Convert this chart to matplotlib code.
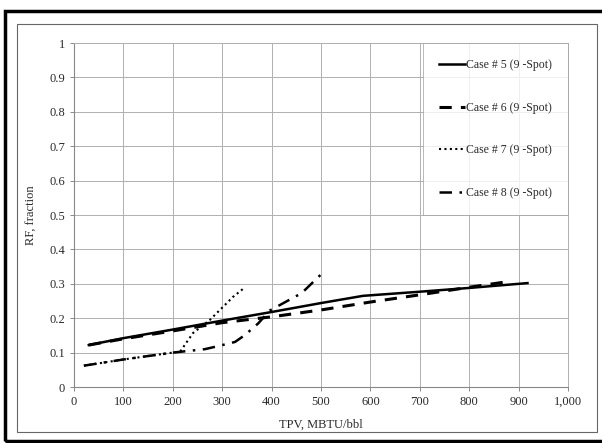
import matplotlib
matplotlib.use('Agg')
import matplotlib.pyplot as plt
from matplotlib.patches import Rectangle

# RF vs TPV for the 9-spot cases
case5_x = [30, 100, 200, 300, 400, 500, 585, 700, 800, 918]
case5_y = [0.122, 0.142, 0.167, 0.193, 0.218, 0.244, 0.265, 0.277, 0.288, 0.302]

case6_x = [30, 100, 200, 300, 400, 500, 600, 700, 800, 872]
case6_y = [0.122, 0.140, 0.163, 0.187, 0.204, 0.224, 0.247, 0.268, 0.290, 0.305]

case7_x = [20, 100, 200, 215, 241, 275, 322, 342]
case7_y = [0.062, 0.080, 0.100, 0.103, 0.157, 0.195, 0.262, 0.285]

case8_x = [20, 100, 200, 265, 295, 326, 346, 373, 396, 461, 502]
case8_y = [0.062, 0.080, 0.100, 0.110, 0.120, 0.131, 0.151, 0.185, 0.222, 0.273, 0.330]

labels = ['Case # 5 (9 -Spot)', 'Case # 6 (9 -Spot)',
          'Case # 7 (9 -Spot)', 'Case # 8 (9 -Spot)']

xticks = [0, 100, 200, 300, 400, 500, 600, 700, 800, 900, 1000]
xticklabels = ['0', '100', '200', '300', '400', '500', '600', '700', '800', '900', '1,000']
yticks = [0, 0.1, 0.2, 0.3, 0.4, 0.5, 0.6, 0.7, 0.8, 0.9, 1]
yticklabels = ['0', '0.1', '0.2', '0.3', '0.4', '0.5', '0.6', '0.7', '0.8', '0.9', '1']

plt.rcParams['font.family'] = ['Liberation Serif', 'DejaVu Serif']
txt = '#2a2a2a'

fig = plt.figure(figsize=(6.02, 4.43), dpi=100)
ax = fig.add_axes([74 / 602, 1 - 387 / 443, 494 / 602, 344 / 443])

ax.plot(case5_x, case5_y, color='black', lw=1.8, ls='-', label=labels[0])
ax.plot(case6_x, case6_y, color='black', lw=2.2, ls=(0, (4, 3)), label=labels[1])
ax.plot(case7_x, case7_y, color='black', lw=1.5, ls=(0, (1, 1.6)), label=labels[2])
ax.plot(case8_x, case8_y, color='black', lw=1.8, ls=(0, (5, 3, 1, 3)), label=labels[3])

ax.set_xlim(0, 1000)
ax.set_ylim(0, 1)
ax.set_xticks(xticks)
ax.set_xticklabels(xticklabels)
ax.set_yticks(yticks)
ax.set_yticklabels(yticklabels)
ax.tick_params(labelsize=9, colors=txt, length=3, width=0.6, color='#777777')
ax.grid(True, color='#b0b0b0', lw=0.7)
ax.set_axisbelow(True)
for side in ['top', 'right']:
    ax.spines[side].set_color('#b0b0b0')
    ax.spines[side].set_linewidth(0.7)
for side in ['left', 'bottom']:
    ax.spines[side].set_color('#888888')
    ax.spines[side].set_linewidth(0.8)

ax.set_xlabel('TPV, MBTU/bbl', fontsize=9, color=txt, labelpad=8)
ax.set_ylabel('RF, fraction', fontsize=9, color=txt, labelpad=8)

leg = ax.legend(loc='upper right', bbox_to_anchor=(1.0, 1.0), fontsize=8.5,
                frameon=True, fancybox=False, edgecolor='#999999',
                labelspacing=2.6, handlelength=2.2, handletextpad=0.1,
                borderpad=1.35, borderaxespad=0.0)
leg.get_frame().set_linewidth(0.6)
for t in leg.get_texts():
    t.set_color(txt)

# page frame around the chart
fig.patches.append(Rectangle((5 / 602, 1 - 441 / 443), 600 / 602, 430 / 443,
                             transform=fig.transFigure, fill=False,
                             edgecolor='black', lw=2.5))
fig.patches.append(Rectangle((17 / 602, 1 - 432 / 443), 580 / 602, 408 / 443,
                             transform=fig.transFigure, fill=False,
                             edgecolor='#666666', lw=0.8))

fig.savefig('out.png', dpi=100)
